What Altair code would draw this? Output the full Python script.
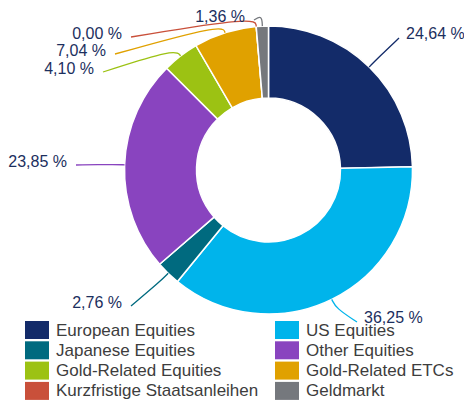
import math
import altair as alt
import pandas as pd

# ---- data ----
categories = ["European Equities", "US Equities", "Japanese Equities", "Other Equities",
              "Gold-Related Equities", "Gold-Related ETCs", "Kurzfristige Staatsanleihen", "Geldmarkt"]
values = [24.64, 36.25, 2.76, 23.85, 4.10, 7.04, 0.00, 1.36]
colors = ["#132b69", "#00b4eb", "#006a7f", "#8944bf", "#9cc213", "#e0a100", "#c9503a", "#75787d"]

# ---- layout (page pixel coordinates) ----
CX, CY, R_OUT, R_IN = 268.5, 170.0, 144, 72
W, H = 456, 392
# where each leader line ends, and which side its label sits on
label_end = [(399, 38), (357, 322), (131, 306), (76, 165), (103, 72), (115, 54), (131, 37), (254, 20)]
label_side = ["left", "left", "right", "right", "right", "right", "right", "right"]
elbow_len = [14, 10, 10, 10, 9, 9, 10, 11]

def fmt(v):
    return f"{v:.2f}".replace(".", ",") + " %"

total = sum(values)
df = pd.DataFrame({"cat": categories, "value": values, "idx": range(len(values))})

# leader lines computed from slice mid-angles
line_rows, text_rows = [], []
cum = 0.0
for i, (c, v) in enumerate(zip(categories, values)):
    mid = (cum + v / 2) / total * 2 * math.pi
    cum += v
    dx, dy = math.sin(mid), -math.cos(mid)
    ex, ey = CX + R_OUT * dx, CY + R_OUT * dy
    bx, by = CX + (R_OUT + elbow_len[i]) * dx, CY + (R_OUT + elbow_len[i]) * dy
    lx, ly = label_end[i]
    for k, (px, py) in enumerate([(ex, ey), (bx, by), (lx, ly)]):
        line_rows.append({"cat": c, "pt": k, "px": px, "py": py})
    if label_side[i] == "left":
        text_rows.append({"cat": c, "tx": lx + 7, "ty": ly - 4, "label": fmt(v), "side": "left"})
    else:
        text_rows.append({"cat": c, "tx": lx - 9, "ty": ly - 3.5, "label": fmt(v), "side": "right"})
lines = pd.DataFrame(line_rows)
texts = pd.DataFrame(text_rows)

# legend (2 columns, row-major)
leg_rows = []
for i, c in enumerate(categories):
    row, col = i // 2, i % 2
    x0 = 25 + col * 250
    y0 = 321 + row * 20.3
    leg_rows.append({"cat": c, "rx": x0, "rx2": x0 + 24, "ry": y0, "ry2": y0 + 18,
                     "lx": x0 + 31, "ly": y0 + 9.5})
legend_df = pd.DataFrame(leg_rows)

xs = alt.Scale(domain=[8, 8 + W])
ys = alt.Scale(domain=[8, 8 + H], reverse=True)
cs = alt.Scale(domain=categories, range=colors)

arcs = alt.Chart(df).mark_arc(innerRadius=R_IN, outerRadius=R_OUT, stroke="white", strokeWidth=1.5).encode(
    theta=alt.Theta("value:Q", stack=True),
    order=alt.Order("idx:Q"),
    color=alt.Color("cat:N", scale=cs, legend=None),
    x=alt.value(CX - 8), y=alt.value(CY - 8),
)

leaders = alt.Chart(lines).mark_line(strokeWidth=1.3, interpolate="basis").encode(
    x=alt.X("px:Q", scale=xs, axis=None),
    y=alt.Y("py:Q", scale=ys, axis=None),
    color=alt.Color("cat:N", scale=cs, legend=None),
    detail="cat:N",
    order=alt.Order("pt:Q"),
)

txt_common = dict(fontSize=16, font="Liberation Sans", color="#1c2f5e", baseline="middle")
lab_left = alt.Chart(texts[texts.side == "left"]).mark_text(align="left", **txt_common).encode(
    x=alt.X("tx:Q", scale=xs, axis=None), y=alt.Y("ty:Q", scale=ys, axis=None), text="label:N")
lab_right = alt.Chart(texts[texts.side == "right"]).mark_text(align="right", **txt_common).encode(
    x=alt.X("tx:Q", scale=xs, axis=None), y=alt.Y("ty:Q", scale=ys, axis=None), text="label:N")

leg_rect = alt.Chart(legend_df).mark_rect().encode(
    x=alt.X("rx:Q", scale=xs, axis=None), x2="rx2:Q",
    y=alt.Y("ry:Q", scale=ys, axis=None), y2="ry2:Q",
    color=alt.Color("cat:N", scale=cs, legend=None),
)
leg_text = alt.Chart(legend_df).mark_text(align="left", baseline="middle", fontSize=17,
                                          font="Liberation Sans", color="#3d3d3d").encode(
    x=alt.X("lx:Q", scale=xs, axis=None), y=alt.Y("ly:Q", scale=ys, axis=None), text="cat:N")

chart = alt.layer(arcs, leaders, lab_left, lab_right, leg_rect, leg_text).properties(
    width=W, height=H, padding=0, autosize=alt.AutoSizeParams(type="none"),
).configure_view(stroke=None)

chart.save("out.html", embed_options={"renderer": "svg", "actions": False})
